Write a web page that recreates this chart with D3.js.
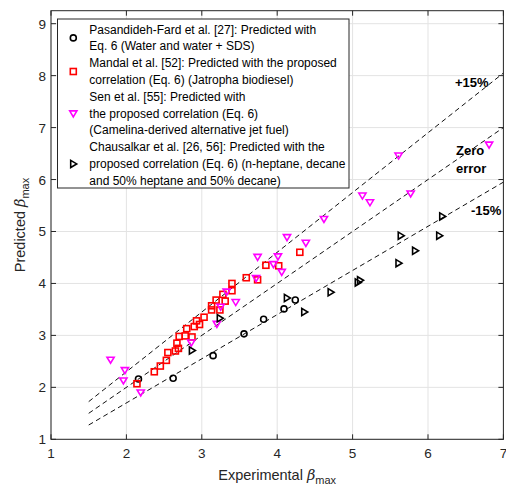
<!DOCTYPE html>
<html>
<head>
<meta charset="utf-8">
<script src="https://cdn.jsdelivr.net/npm/d3@7"></script>
<style>
  html, body { margin: 0; padding: 0; background: #fff; }
  svg { display: block; font-family: "Liberation Sans", Arial, sans-serif; }
</style>
</head>
<body>
<svg id="chart" width="506" height="492"></svg>
<script>
// Experimental vs predicted maximum spreading factor, four data sources
const pasandidehFard = [
  [2.16, 2.16], [2.62, 2.175], [3.15, 2.61], [3.56, 3.03], [3.82, 3.31], [4.09, 3.51], [4.24, 3.68]
];
const mandal = [
  [2.14, 2.07], [2.37, 2.30], [2.45, 2.41], [2.53, 2.52], [2.55, 2.67], [2.65, 2.70], [2.69, 2.75],
  [2.67, 2.85], [2.70, 2.98], [2.78, 2.99], [2.87, 2.97], [2.80, 3.13], [2.90, 3.17], [2.93, 3.28],
  [2.97, 3.21], [3.03, 3.35], [3.13, 3.49], [3.13, 3.57], [3.19, 3.68], [3.24, 3.49], [3.28, 3.79],
  [3.31, 3.66], [3.40, 3.86], [3.40, 4.00], [3.59, 4.11], [3.74, 4.07], [3.85, 4.35], [4.02, 4.34],
  [4.30, 4.60]
];
const sen = [
  [1.79, 2.53], [1.98, 2.33], [1.96, 2.13], [2.19, 1.90], [2.86, 2.86], [3.20, 3.22], [3.25, 3.55],
  [3.33, 3.84], [3.45, 3.64], [3.72, 4.10], [3.74, 4.51], [3.95, 4.37], [4.01, 4.52], [4.06, 4.22],
  [4.13, 4.89], [4.38, 4.78], [4.62, 5.24], [5.13, 5.69], [5.23, 5.56], [5.61, 6.46], [5.77, 5.73],
  [6.81, 6.67]
];
const chausalkar = [
  [2.87, 2.71], [3.24, 3.33], [4.13, 3.72], [4.36, 3.45], [4.71, 3.83], [5.07, 4.02], [5.10, 4.06],
  [5.61, 4.39], [5.64, 4.92], [5.83, 4.63], [6.15, 4.92], [6.19, 5.29]
];

// Reference lines: predicted = factor * experimental
const refFactors = [1.15, 1.0, 0.85];
const refRange = [1.5, 7];

const xTicks = [1, 2, 3, 4, 5, 6, 7];
const yTicks = [1, 2, 3, 4, 5, 6, 7, 8, 9];

const legendItems = [
  { shape: "circle", lines: ["Pasandideh-Fard et al. [27]: Predicted with", "Eq. 6 (Water and water + SDS)"] },
  { shape: "square", lines: ["Mandal et al. [52]: Predicted with the proposed", "correlation (Eq. 6) (Jatropha biodiesel)"] },
  { shape: "down", lines: ["Sen et al. [55]: Predicted with", "the proposed correlation (Eq. 6)", "(Camelina-derived alternative jet fuel)"] },
  { shape: "right", lines: ["Chausalkar et al. [26, 56]: Predicted with the", "proposed correlation (Eq. 6) (n-heptane, decane", "and 50% heptane and 50% decane)"] }
];

const svg = d3.select("#chart");
const plotL = 51, plotR = 503.4, plotT = 10.7, plotB = 439.3;

const x = d3.scaleLinear().domain([1, 7]).range([plotL, plotR]);
const y = d3.scaleLinear().domain([1, 9.25]).range([plotB, plotT]);

// grid
const grid = svg.append("g").attr("stroke", "#e3e3e3").attr("stroke-width", 1);
xTicks.forEach(t => grid.append("line").attr("x1", x(t)).attr("x2", x(t)).attr("y1", plotT).attr("y2", plotB));
yTicks.forEach(t => grid.append("line").attr("y1", y(t)).attr("y2", y(t)).attr("x1", plotL).attr("x2", plotR));

// reference lines
const line = d3.line().x(d => x(d[0])).y(d => y(d[1]));
svg.append("g").selectAll("path").data(refFactors).join("path")
  .attr("d", f => line(refRange.map(v => [v, v * f])))
  .attr("fill", "none").attr("stroke", "#111").attr("stroke-width", 1)
  .attr("stroke-dasharray", "5,3.5");

// marker shapes
function marker(sel, shape) {
  if (shape === "circle") {
    sel.append("circle").attr("r", 3).attr("fill", "none").attr("stroke", "#000").attr("stroke-width", 1.6);
  } else if (shape === "square") {
    sel.append("rect").attr("x", -3).attr("y", -3).attr("width", 6).attr("height", 6)
      .attr("fill", "none").attr("stroke", "#ff0000").attr("stroke-width", 1.6);
  } else if (shape === "down") {
    sel.append("path").attr("d", "M-3.6,-2.6 L3.6,-2.6 L0,3.4 Z")
      .attr("fill", "none").attr("stroke", "#ff00ff").attr("stroke-width", 1.6);
  } else {
    sel.append("path").attr("d", "M-2.6,-3.6 L-2.6,3.6 L3.4,0 Z")
      .attr("fill", "none").attr("stroke", "#000").attr("stroke-width", 1.6);
  }
}

function series(data, shape) {
  svg.append("g").selectAll("g").data(data).join("g")
    .attr("transform", d => `translate(${x(d[0])},${y(d[1])})`)
    .each(function () { marker(d3.select(this), shape); });
}
series(pasandidehFard, "circle");
series(mandal, "square");
series(sen, "down");
series(chausalkar, "right");

// annotations
const ann = svg.append("g").attr("font-weight", "bold").attr("font-size", 13).attr("fill", "#000");
ann.append("text").attr("x", 455).attr("y", 87).text("+15%");
ann.append("text").attr("x", 456).attr("y", 155).text("Zero");
ann.append("text").attr("x", 456).attr("y", 173).text("error");
ann.append("text").attr("x", 471).attr("y", 215).text("-15%");

// axes frame with inward ticks
const axisColor = "#262626";
const frame = svg.append("g").attr("stroke", axisColor).attr("stroke-width", 1);
frame.append("rect").attr("x", plotL).attr("y", plotT).attr("width", plotR - plotL).attr("height", plotB - plotT)
  .attr("fill", "none");
const tl = 5;
xTicks.forEach(t => {
  frame.append("line").attr("x1", x(t)).attr("x2", x(t)).attr("y1", plotB).attr("y2", plotB - tl);
  frame.append("line").attr("x1", x(t)).attr("x2", x(t)).attr("y1", plotT).attr("y2", plotT + tl);
});
yTicks.forEach(t => {
  frame.append("line").attr("y1", y(t)).attr("y2", y(t)).attr("x1", plotL).attr("x2", plotL + tl);
  frame.append("line").attr("y1", y(t)).attr("y2", y(t)).attr("x1", plotR).attr("x2", plotR - tl);
});

// tick labels
const tlab = svg.append("g").attr("font-size", 13.5).attr("fill", axisColor);
xTicks.forEach(t => tlab.append("text").attr("x", x(t)).attr("y", plotB + 19).attr("text-anchor", "middle").text(t));
yTicks.forEach(t => tlab.append("text").attr("x", plotL - 5).attr("y", y(t) + 5).attr("text-anchor", "end").text(t));

// axis titles
const xt = svg.append("text").attr("x", (plotL + plotR) / 2).attr("y", 480).attr("text-anchor", "middle")
  .attr("font-size", 14.5).attr("fill", axisColor);
xt.append("tspan").text("Experimental ");
xt.append("tspan").attr("font-style", "italic").attr("font-family", "DejaVu Serif, serif").text("β");
xt.append("tspan").attr("font-size", 11).attr("dy", 4).text("max");

const yt = svg.append("text").attr("transform", `translate(25,${(plotT + plotB) / 2}) rotate(-90)`)
  .attr("text-anchor", "middle").attr("font-size", 14.5).attr("fill", axisColor);
yt.append("tspan").text("Predicted ");
yt.append("tspan").attr("font-style", "italic").attr("font-family", "DejaVu Serif, serif").text("β");
yt.append("tspan").attr("font-size", 11).attr("dy", 4).text("max");

// legend
const lg = svg.append("g");
lg.append("rect").attr("x", 57.5).attr("y", 19).attr("width", 291.5).attr("height", 169)
  .attr("fill", "#fff").attr("stroke", axisColor).attr("stroke-width", 1);
const lineH = 16.8;
let row = 0;
legendItems.forEach(item => {
  const n = item.lines.length;
  const firstBase = 33.5 + row * lineH;
  const midY = 29 + (row + (n - 1) / 2) * lineH;
  const g = lg.append("g").attr("transform", `translate(73.3,${midY + 0.5})`);
  marker(g, item.shape);
  item.lines.forEach((s, i) => {
    lg.append("text").attr("x", 89.3).attr("y", firstBase + i * lineH)
      .attr("font-size", 12).attr("fill", "#000").text(s);
  });
  row += n;
});
</script>
</body>
</html>
